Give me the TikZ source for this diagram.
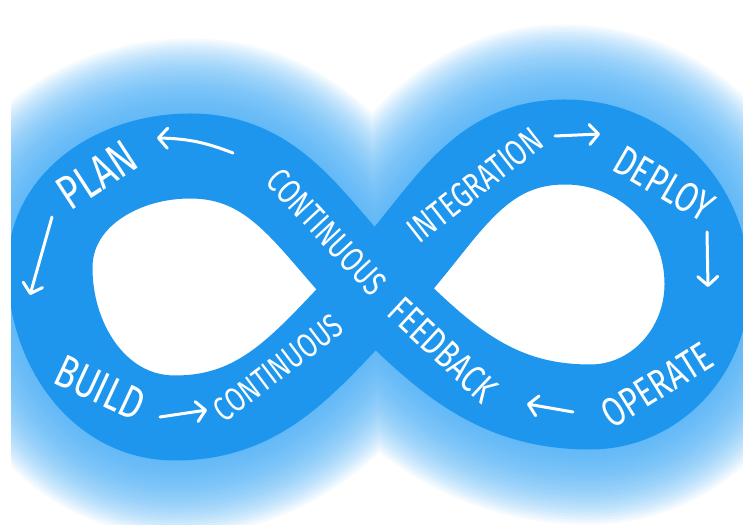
\documentclass[tikz,border=0pt]{standalone}
\usepackage{fontspec}
\newfontfamily\handfont[FakeStretch=0.75]{Fira Sans}
\usetikzlibrary{arrows.meta}
\definecolor{bandblue}{RGB}{30,150,238}
\definecolor{glowblue}{RGB}{70,172,245}
\tikzset{
	bandstyle/.style={draw=bandblue,line width=85pt},
	glowstyle/.style={draw=glowblue,opacity=0.06},
	wordstyle/.style={text=white,inner sep=0pt},
	flowstyle/.style={draw=white,line width=3pt,line cap=round,-{Straight Barb[length=9pt,width=20pt,round]}}
}
\newcommand{\loopline}{(c) to[out=45,in=180] (rt) to[out=0,in=90] (rr) to[out=-90,in=0] (rb) to[out=180,in=-45] (c) to[out=135,in=0] (lt) to[out=180,in=90] (lr) to[out=-90,in=180] (lb) to[out=0,in=-135] (c) -- cycle}
\newcommand{\handsize}[1]{\handfont\fontsize{#1}{#1}\selectfont}

\begin{document}
\begin{tikzpicture}[x=1pt,y=1pt]
	\useasboundingbox (0,0) rectangle (743,524);
	\clip (11,0) rectangle (743,524);
	\coordinate (c) at (375,234);
	\coordinate (rt) at (565,382);
	\coordinate (rr) at (707,240);
	\coordinate (rb) at (590,117);
	\coordinate (lt) at (190,368);
	\coordinate (lr) at (50,256);
	\coordinate (lb) at (175,106);
	% soft halo round the band
	\foreach \g in {1,...,30}
		\path[glowstyle,line width=85pt+\g*5pt] \loopline;
	\fill[white] \loopline;
	\draw[bandstyle] \loopline;
	% labels
	\node[wordstyle,font=\handsize{48},rotate=33] (plan) at (97,349) {PLAN};
	\node[wordstyle,font=\handsize{46},rotate=-25] (build) at (100,136) {BUILD};
	\node[wordstyle,font=\handsize{35},rotate=-47] (contA) at (327,292) {CONTINUOUS};
	\node[wordstyle,font=\handsize{39},rotate=-43] (feedback) at (443,174) {FEEDBACK};
	\node[wordstyle,font=\handsize{36},rotate=38] (integration) at (475,339) {INTEGRATION};
	\node[wordstyle,font=\handsize{42},rotate=-30] (deploy) at (664,340) {DEPLOY};
	\node[wordstyle,font=\handsize{41},rotate=32] (operate) at (657,139) {OPERATE};
	\node[wordstyle,font=\handsize{34},rotate=37] (contB) at (278,156) {CONTINUOUS};
	% arrows
	\coordinate (a1) at (233,371);
	\coordinate (b1) at (157,386);
	\coordinate (a2) at (52,307);
	\coordinate (b2) at (30,229);
	\coordinate (a3) at (160,107);
	\coordinate (b3) at (207,114);
	\coordinate (a4) at (555,388);
	\coordinate (b4) at (600,390);
	\coordinate (a5) at (707,292);
	\coordinate (b5) at (708,237);
	\coordinate (a6) at (573,112);
	\coordinate (b6) at (527,120);
	\draw[flowstyle] (a1) to[bend right=10] (b1);
	\draw[flowstyle] (a2) -- (b2);
	\draw[flowstyle] (a3) -- (b3);
	\draw[flowstyle] (a4) -- (b4);
	\draw[flowstyle] (a5) -- (b5);
	\draw[flowstyle] (a6) -- (b6);
\end{tikzpicture}
\end{document}
